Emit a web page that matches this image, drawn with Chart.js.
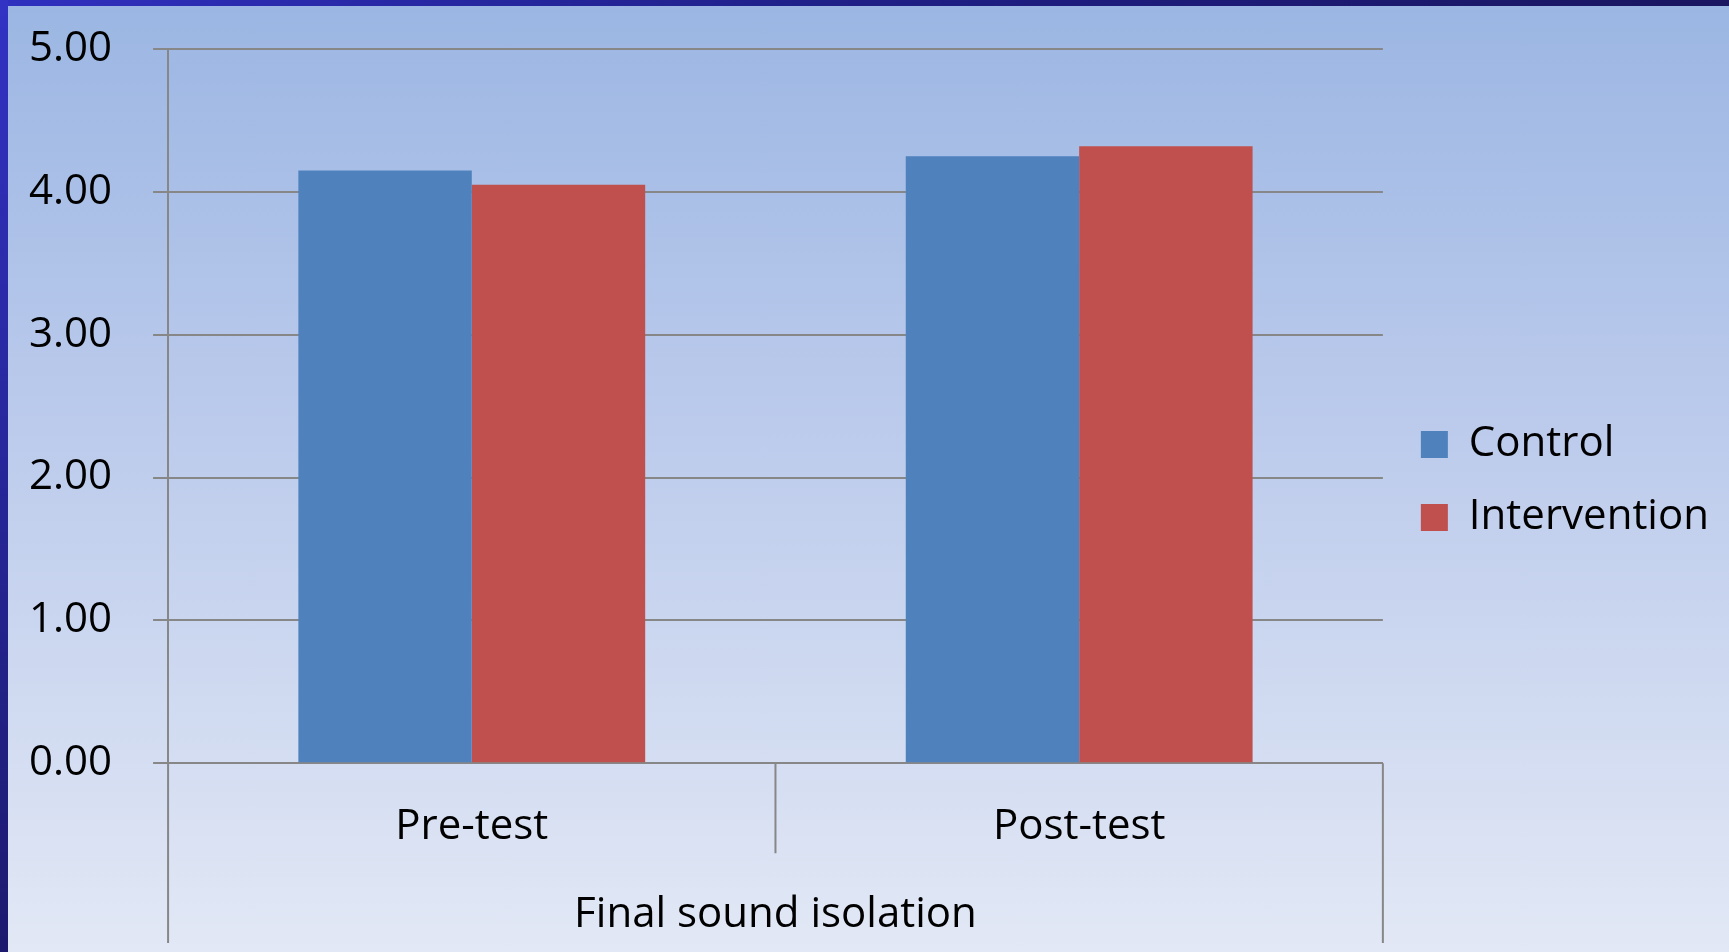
<!DOCTYPE html>
<html>
<head>
<meta charset="utf-8">
<script src="https://cdn.jsdelivr.net/npm/chart.js@4/dist/chart.umd.min.js"></script>
<style>
  html, body { margin: 0; padding: 0; }
  body {
    width: 1729px;
    height: 952px;
    overflow: hidden;
    position: relative;
    background: linear-gradient(to bottom, #9bb6e3 0%, #bccbec 45%, #e2e8f5 100%);
  }
  #wrap { position: absolute; left: 0; top: 0; width: 1729px; height: 952px; }
  .edge-top { position: absolute; left: 0; top: 0; width: 1729px; height: 6px; background: linear-gradient(to right, #3030c0, #1f1f86 50%, #1a1660); }
  .edge-left { position: absolute; left: 0; top: 0; width: 8px; height: 952px; background: linear-gradient(to bottom, #3232c4, #1c1a6e); }
</style>
</head>
<body>
<div id="wrap"><canvas id="soundChart"></canvas></div>
<div class="edge-top"></div>
<div class="edge-left"></div>
<script>
const categories = ["Pre-test", "Post-test"];
const groupLabel = "Final sound isolation";
const controlValues = [4.15, 4.25];
const interventionValues = [4.05, 4.32];
const yTicks = [0, 1, 2, 3, 4, 5];

const axisGrey = "#878787";
const labelFont = { family: "'Open Sans', sans-serif", size: 42 };

// group bracket lines below the x axis, placed from the scale edges
const bracketLines = {
  id: "bracketLines",
  afterDraw(chart) {
    const { ctx, chartArea } = chart;
    const x = chart.scales.x;
    const top = chartArea.bottom;
    const outerBottom = x.bottom - 9;
    const innerBottom = top + 90;
    const mids = [];
    for (let i = 0; i < categories.length - 1; i++) {
      mids.push((x.getPixelForTick(i) + x.getPixelForTick(i + 1)) / 2);
    }
    ctx.save();
    ctx.strokeStyle = axisGrey;
    ctx.lineWidth = 2;
    ctx.beginPath();
    [x.left, x.right].forEach((px) => {
      ctx.moveTo(px, top);
      ctx.lineTo(px, outerBottom);
    });
    mids.forEach((px) => {
      ctx.moveTo(px, top);
      ctx.lineTo(px, innerBottom);
    });
    ctx.stroke();
    ctx.restore();
  },
};

new Chart(document.getElementById("soundChart"), {
  type: "bar",
  data: {
    labels: categories,
    datasets: [
      {
        label: "Control",
        data: controlValues,
        backgroundColor: "#4f81bd",
        categoryPercentage: 0.571,
        barPercentage: 1,
      },
      {
        label: "Intervention",
        data: interventionValues,
        backgroundColor: "#c0504d",
        categoryPercentage: 0.571,
        barPercentage: 1,
      },
    ],
  },
  options: {
    responsive: true,
    maintainAspectRatio: false,
    animation: false,
    layout: { padding: { left: -12, right: 10, top: 10, bottom: 0 } },
    plugins: {
      tooltip: { enabled: false },
      legend: {
        position: "right",
        maxWidth: 420,
        labels: {
          color: "#000",
          font: labelFont,
          boxWidth: 27,
          boxHeight: 27,
          padding: 31,
        },
      },
    },
    scales: {
      x: {
        grid: { display: false },
        border: { display: true, color: axisGrey, width: 2 },
        ticks: { color: "#000", font: labelFont, padding: 31 },
        title: {
          display: true,
          text: groupLabel,
          color: "#000",
          font: labelFont,
          padding: { top: 6, bottom: 12 },
        },
      },
      y: {
        min: yTicks[0],
        max: yTicks[yTicks.length - 1],
        afterBuildTicks(scale) {
          scale.ticks = yTicks.map((v) => ({ value: v }));
        },
        afterFit(scale) {
          scale.paddingTop = 49;
        },
        grid: { color: axisGrey, lineWidth: 2, tickLength: 15 },
        border: { color: axisGrey, width: 2 },
        ticks: {
          color: "#000",
          font: labelFont,
          padding: 41,
          callback: (v) => Number(v).toFixed(2),
        },
      },
      gap: {
        position: "right",
        display: true,
        grid: { display: false, drawTicks: false },
        border: { display: false },
        ticks: { display: false },
        afterFit(scale) {
          scale.width = 7;
        },
      },
    },
  },
  plugins: [bracketLines],
});
</script>
</body>
</html>
